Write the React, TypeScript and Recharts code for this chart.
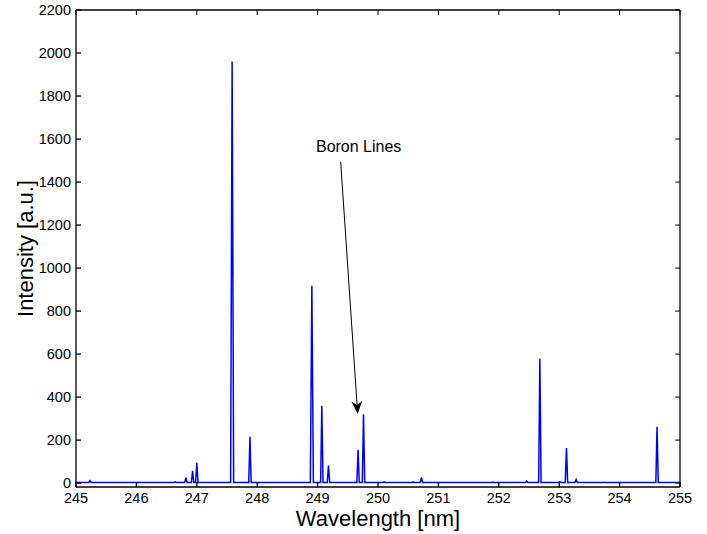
import { LineChart, Line, XAxis, YAxis, ReferenceLine } from "recharts";

// spectrum points (nm, a.u.)
const wavelengths = [
  245.0, 245.21, 245.23, 245.25, 246.62, 246.64, 246.66, 246.8, 246.82, 246.84,
  246.91, 246.93, 246.95, 246.98, 247.0, 247.02, 247.56, 247.585, 247.61, 247.86,
  247.88, 247.9, 248.88, 248.905, 248.93, 249.05, 249.07, 249.09, 249.16, 249.18,
  249.2, 249.65, 249.67, 249.69, 249.74, 249.76, 249.78, 250.09, 250.1, 250.11,
  250.57, 250.58, 250.59, 250.7, 250.72, 250.74, 251.89, 251.9, 251.91, 252.44,
  252.46, 252.48, 252.66, 252.68, 252.7, 252.99, 253.01, 253.03, 253.1, 253.12,
  253.14, 253.26, 253.28, 253.3, 253.72, 253.74, 253.76, 254.6, 254.62, 254.64,
  255.0,
];
const intensities = [
  3, 3, 12, 3, 3, 6, 3, 3, 25, 3,
  3, 57, 3, 3, 94, 3, 3, 1960, 3, 3,
  215, 3, 3, 918, 3, 3, 360, 3, 3, 82,
  3, 3, 155, 3, 3, 320, 3, 3, 6, 3,
  3, 6, 3, 3, 27, 3, 3, 5, 3, 3,
  9, 3, 3, 578, 3, 3, 6, 3, 3, 163,
  3, 3, 17, 3, 3, 4, 3, 3, 262, 3,
  3,
];

const xTicks = [245, 246, 247, 248, 249, 250, 251, 252, 253, 254, 255];
const yTicks = [0, 200, 400, 600, 800, 1000, 1200, 1400, 1600, 1800, 2000, 2200];
const xMin = 245;
const xMax = 255;
const yMin = -18;
const yMax = 2200;

// arrow: start near the text, tip on the boron lines
const arrowFrom = { x: 249.382, y: 1494 };
const arrowTo = { x: 249.664, y: 321 };
const arrowText = "Boron Lines";

const data = wavelengths.map((w, i) => ({ w, v: intensities[i] }));

const font = "'Liberation Sans', Arial, sans-serif";

const Arrow = (props: any) => {
  const { x1, y1, x2, y2 } = props;
  const dx = x2 - x1;
  const dy = y2 - y1;
  const len = Math.sqrt(dx * dx + dy * dy);
  const ux = dx / len;
  const uy = dy / len;
  const headLen = 13;
  const notch = 9;
  const half = 5.5;
  const bx = x2 - ux * headLen;
  const by = y2 - uy * headLen;
  const nx = x2 - ux * notch;
  const ny = y2 - uy * notch;
  const pts = [
    [x2, y2],
    [bx - uy * half, by + ux * half],
    [nx, ny],
    [bx + uy * half, by - ux * half],
  ]
    .map((p) => p.join(","))
    .join(" ");
  return (
    <g>
      <line x1={x1} y1={y1} x2={nx} y2={ny} stroke="#000" strokeWidth={1} />
      <polygon points={pts} fill="#000" />
      <text
        x={x1 + 18}
        y={y1 - 10}
        textAnchor="middle"
        fontSize={16}
        fontFamily={font}
        fill="#000"
      >
        {arrowText}
      </text>
    </g>
  );
};

export default function App() {
  return (
    <div style={{ position: "absolute", left: 0, top: 0, background: "#fff" }}>
      <LineChart
        width={707}
        height={534}
        data={data}
        margin={{ top: 10, right: 27, bottom: 0, left: 20 }}
        style={{ fontFamily: font }}
      >
        <XAxis
          dataKey="w"
          type="number"
          domain={[xMin, xMax]}
          ticks={xTicks}
          interval={0}
          height={47}
          stroke="#000"
          strokeWidth={1.3}
          tickSize={-5}
          tickMargin={11}
          tick={{ fill: "#000", fontSize: 14.5 }}
          allowDataOverflow
          label={{
            value: "Wavelength [nm]",
            position: "insideBottom",
            offset: 8,
            fill: "#000",
            fontSize: 22,
          }}
        />
        <YAxis
          type="number"
          domain={[yMin, yMax]}
          ticks={yTicks}
          interval={0}
          width={56}
          stroke="#000"
          strokeWidth={1.3}
          tickSize={-5}
          tickMargin={10}
          tick={{ fill: "#000", fontSize: 14.5 }}
          allowDataOverflow
          label={{
            value: "Intensity [a.u.]",
            angle: -90,
            position: "insideLeft",
            offset: 5,
            fill: "#000",
            fontSize: 22,
            style: { textAnchor: "middle" },
          }}
        />
        {/* top and right sides of the box */}
        <ReferenceLine x={xMax} stroke="#000" strokeWidth={1.3} ifOverflow="visible" />
        <ReferenceLine y={yMax} stroke="#000" strokeWidth={1.3} ifOverflow="visible" />
        {yTicks.map((t) => (
          <ReferenceLine
            key={"ry" + t}
            segment={[
              { x: xMax - 0.08, y: t },
              { x: xMax, y: t },
            ]}
            stroke="#000"
            strokeWidth={1}
            ifOverflow="visible"
          />
        ))}
        {xTicks.map((t) => (
          <ReferenceLine
            key={"tx" + t}
            segment={[
              { x: t, y: yMax },
              { x: t, y: yMax - 23 },
            ]}
            stroke="#000"
            strokeWidth={1}
            ifOverflow="visible"
          />
        ))}
        <Line
          type="linear"
          dataKey="v"
          stroke="#0000ff"
          strokeWidth={1.5}
          dot={false}
          activeDot={false}
          isAnimationActive={false}
        />
        <ReferenceLine
          segment={[arrowFrom, arrowTo]}
          ifOverflow="visible"
          shape={Arrow}
        />
      </LineChart>
    </div>
  );
}
